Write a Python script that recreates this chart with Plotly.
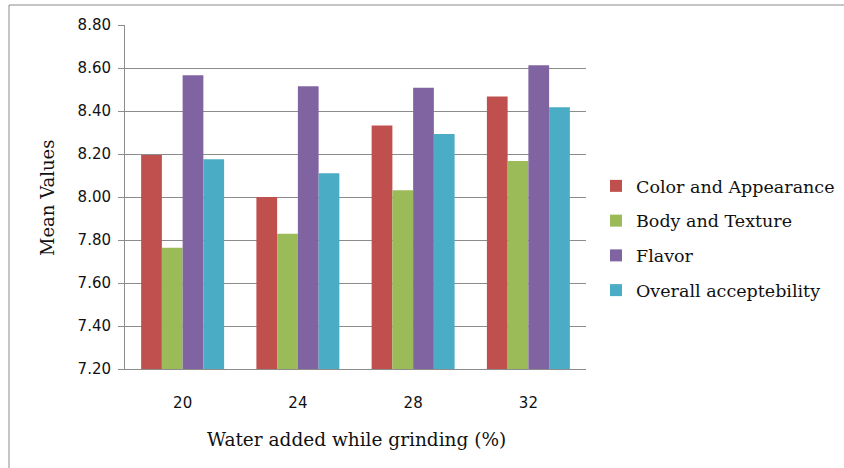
import plotly.graph_objects as go

# Water added while grinding (%)
categories = ["20", "24", "28", "32"]

# Mean sensory scores per attribute
color_appearance = [8.195, 8.00, 8.332, 8.468]
body_texture = [7.764, 7.829, 8.031, 8.167]
flavor = [8.566, 8.515, 8.508, 8.613]
overall_acceptability = [8.175, 8.110, 8.293, 8.417]

series_names = ["Color and Appearance", "Body and Texture", "Flavor", "Overall acceptebility"]
series_values = [color_appearance, body_texture, flavor, overall_acceptability]
series_colors = ["#C0504D", "#9BBB59", "#8064A2", "#4BACC6"]

y_ticks = [7.20, 7.40, 7.60, 7.80, 8.00, 8.20, 8.40, 8.60, 8.80]

fig = go.Figure()
for name, vals, col in zip(series_names, series_values, series_colors):
    fig.add_trace(go.Bar(
        x=categories, y=vals, name=name, legendgroup=name,
        marker=dict(color=col, line=dict(width=0)),
    ))

GRID = "#8C8C8C"
TEXT = "#111111"
W, H = 844, 468
L, R, T, B = 125, 586, 25, 369
pw, ph = R - L, B - T

def px(xp):
    return (xp - L) / pw

def py(yp):
    return (B - yp) / ph

fig.update_layout(
    width=W, height=H,
    margin=dict(l=L, r=W - R, t=T, b=H - B, autoexpand=False),
    paper_bgcolor="white", plot_bgcolor="white",
    barmode="group", bargap=0.28, bargroupgap=0,
    showlegend=True,
    legend=dict(
        x=px(596), xanchor="left", y=py(238), yanchor="middle",
        font=dict(family="DejaVu Serif", size=17.5, color=TEXT),
        tracegroupgap=9, bgcolor="rgba(0,0,0,0)",
    ),
    xaxis=dict(
        type="category", showgrid=False, showline=True, linecolor=GRID, linewidth=1,
        ticks="", tickfont=dict(family="DejaVu Sans", size=15, color=TEXT),
        ticklabelstandoff=20, zeroline=False,
    ),
    yaxis=dict(
        range=[7.2, 8.8], tickvals=y_ticks, ticktext=[f"{v:.2f}" for v in y_ticks],
        showgrid=True, gridcolor=GRID, gridwidth=1,
        showline=True, linecolor=GRID, linewidth=1,
        ticks="outside", ticklen=6, tickcolor=GRID,
        tickfont=dict(family="DejaVu Sans", size=15, color=TEXT),
        ticklabelstandoff=4, zeroline=False,
    ),
    annotations=[
        dict(text="Mean Values", xref="paper", yref="paper", x=px(47), y=py(198),
             textangle=-90, showarrow=False, xanchor="center", yanchor="middle",
             font=dict(family="DejaVu Serif", size=18, color=TEXT)),
        dict(text="Water added while grinding (%)", xref="paper", yref="paper",
             x=px(356), y=py(439), showarrow=False, xanchor="center", yanchor="middle",
             font=dict(family="DejaVu Serif", size=18.5, color=TEXT)),
    ],
    shapes=[
        dict(type="rect", xref="paper", yref="paper",
             x0=px(9), x1=px(W + 5), y0=py(H + 5), y1=py(5),
             line=dict(color="#8C8C8C", width=1), fillcolor="rgba(0,0,0,0)", layer="below"),
    ],
)

fig.write_html("out.html")
